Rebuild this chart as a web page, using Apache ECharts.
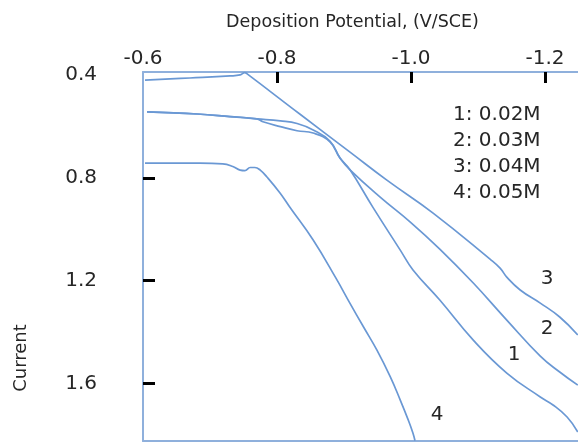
<!DOCTYPE html>
<html>
<head>
<meta charset="utf-8">
<script src="https://cdn.jsdelivr.net/npm/echarts@6/dist/echarts.min.js"></script>
<style>
html,body{margin:0;padding:0;background:#fff;}
#chart{width:578px;height:443px;}
</style>
</head>
<body>
<div id="chart"></div>
<script>
// Tick labels
const xLabelVals = [-0.6, -0.8, -1.0, -1.2];
const xTickVals = [-0.8, -1.0, -1.2];
const yLabelVals = [0.4, 0.8, 1.2, 1.6];
const yTickVals = [0.8, 1.2, 1.6];

// Series names
const seriesNames = ['1: 0.02M', '2: 0.03M', '3: 0.04M', '4: 0.05M'];

// [potential (V/SCE), current]
const c1 = [[-0.606,0.544],[-0.681,0.552],[-0.730,0.562],[-0.770,0.571],[-0.779,0.582],[-0.805,0.601],[-0.830,0.617],[-0.854,0.626],[-0.879,0.660],[-0.894,0.723],[-0.909,0.769],[-0.943,0.914],[-0.984,1.081],[-1.003,1.158],[-1.043,1.275],[-1.093,1.431],[-1.143,1.559],[-1.193,1.652],[-1.212,1.683],[-1.233,1.730],[-1.249,1.788]];
const c2 = [[-0.606,0.544],[-0.681,0.552],[-0.730,0.562],[-0.770,0.571],[-0.805,0.579],[-0.830,0.589],[-0.854,0.614],[-0.879,0.657],[-0.894,0.723],[-0.909,0.769],[-0.954,0.875],[-0.999,0.972],[-1.043,1.077],[-1.093,1.209],[-1.143,1.353],[-1.193,1.493],[-1.222,1.555],[-1.249,1.606]];
const c3 = [[-0.603,0.420],[-0.670,0.412],[-0.730,0.404],[-0.745,0.400],[-0.752,0.391],[-0.755,0.395],[-0.834,0.552],[-0.909,0.700],[-0.964,0.809],[-1.033,0.937],[-1.118,1.116],[-1.133,1.151],[-1.143,1.186],[-1.163,1.236],[-1.193,1.287],[-1.222,1.341],[-1.249,1.411]];
const c4 = [[-0.603,0.743],[-0.685,0.743],[-0.719,0.746],[-0.734,0.756],[-0.745,0.770],[-0.752,0.772],[-0.760,0.760],[-0.767,0.760],[-0.775,0.770],[-0.785,0.797],[-0.8045,0.859],[-0.819,0.9135],[-0.854,1.042],[-0.888,1.190],[-0.909,1.288],[-0.929,1.379],[-0.949,1.469],[-0.969,1.573],[-0.984,1.664],[-0.996,1.742],[-1.003,1.793],[-1.006,1.822]];

const FONT = 'DejaVu Sans';
const TXT = '#262626';
const AXIS = '#8fb0dc';
const LINE = '#6a98d4';

const chart = echarts.init(document.getElementById('chart'), null, {renderer:'canvas'});

function mk(name, data){
  return {name:name, type:'line', data:data, showSymbol:false, symbol:'none', smooth:0.45,
    lineStyle:{color:LINE, width:1.7}, itemStyle:{color:LINE}, silent:true};
}

chart.setOption({
  animation:false,
  backgroundColor:'#fff',
  grid:{left:143, right:0, top:72, bottom:2, containLabel:false},
  xAxis:[{
    type:'value', position:'top', inverse:true, min:-1.2493, max:-0.6,
    axisLine:{show:true, onZero:false, lineStyle:{color:AXIS, width:2}},
    axisTick:{show:true, inside:true, length:11, customValues:xTickVals, lineStyle:{color:'#000', width:3}},
    axisLabel:{show:true, customValues:xLabelVals, formatter:v=>v.toFixed(1), fontSize:20, fontFamily:FONT, color:TXT, margin:3},
    splitLine:{show:false},
    name:'Deposition Potential, (V/SCE)', nameLocation:'middle', nameGap:41,
    nameTextStyle:{fontSize:17.5, fontFamily:FONT, color:TXT, padding:[0,16,0,0]}
  },{
    type:'value', position:'bottom', inverse:true, min:-1.2493, max:-0.6,
    axisLine:{show:true, onZero:false, lineStyle:{color:AXIS, width:2}},
    axisTick:{show:false}, axisLabel:{show:false}, splitLine:{show:false}
  }],
  yAxis:{
    type:'value', inverse:true, min:0.3887, max:1.8231,
    axisLine:{show:true, onZero:false, lineStyle:{color:AXIS, width:2}},
    axisTick:{show:true, inside:true, length:12, customValues:yTickVals, lineStyle:{color:'#000', width:3}},
    axisLabel:{show:true, customValues:yLabelVals, formatter:v=>v.toFixed(1), fontSize:20, fontFamily:FONT, color:TXT, margin:46},
    splitLine:{show:false}
  },
  graphic:[
    {type:'text', x:21, y:358, rotation:Math.PI/2, style:{text:'Current', fontSize:18, fontFamily:FONT, fill:TXT, align:'center', verticalAlign:'middle'}},
    {type:'text', x:453, y:102, style:{text:seriesNames.join('\n'), fontSize:20, lineHeight:26, fontFamily:FONT, fill:TXT, align:'left', verticalAlign:'top'}},
    {type:'text', x:514, y:355, style:{text:'1', fontSize:20, fontFamily:FONT, fill:TXT, align:'center', verticalAlign:'middle'}},
    {type:'text', x:547, y:329, style:{text:'2', fontSize:20, fontFamily:FONT, fill:TXT, align:'center', verticalAlign:'middle'}},
    {type:'text', x:547, y:279, style:{text:'3', fontSize:20, fontFamily:FONT, fill:TXT, align:'center', verticalAlign:'middle'}},
    {type:'text', x:437, y:415, style:{text:'4', fontSize:20, fontFamily:FONT, fill:TXT, align:'center', verticalAlign:'middle'}}
  ],
  series:[mk(seriesNames[0], c1), mk(seriesNames[1], c2), mk(seriesNames[2], c3), mk(seriesNames[3], c4)]
});
</script>
</body>
</html>
